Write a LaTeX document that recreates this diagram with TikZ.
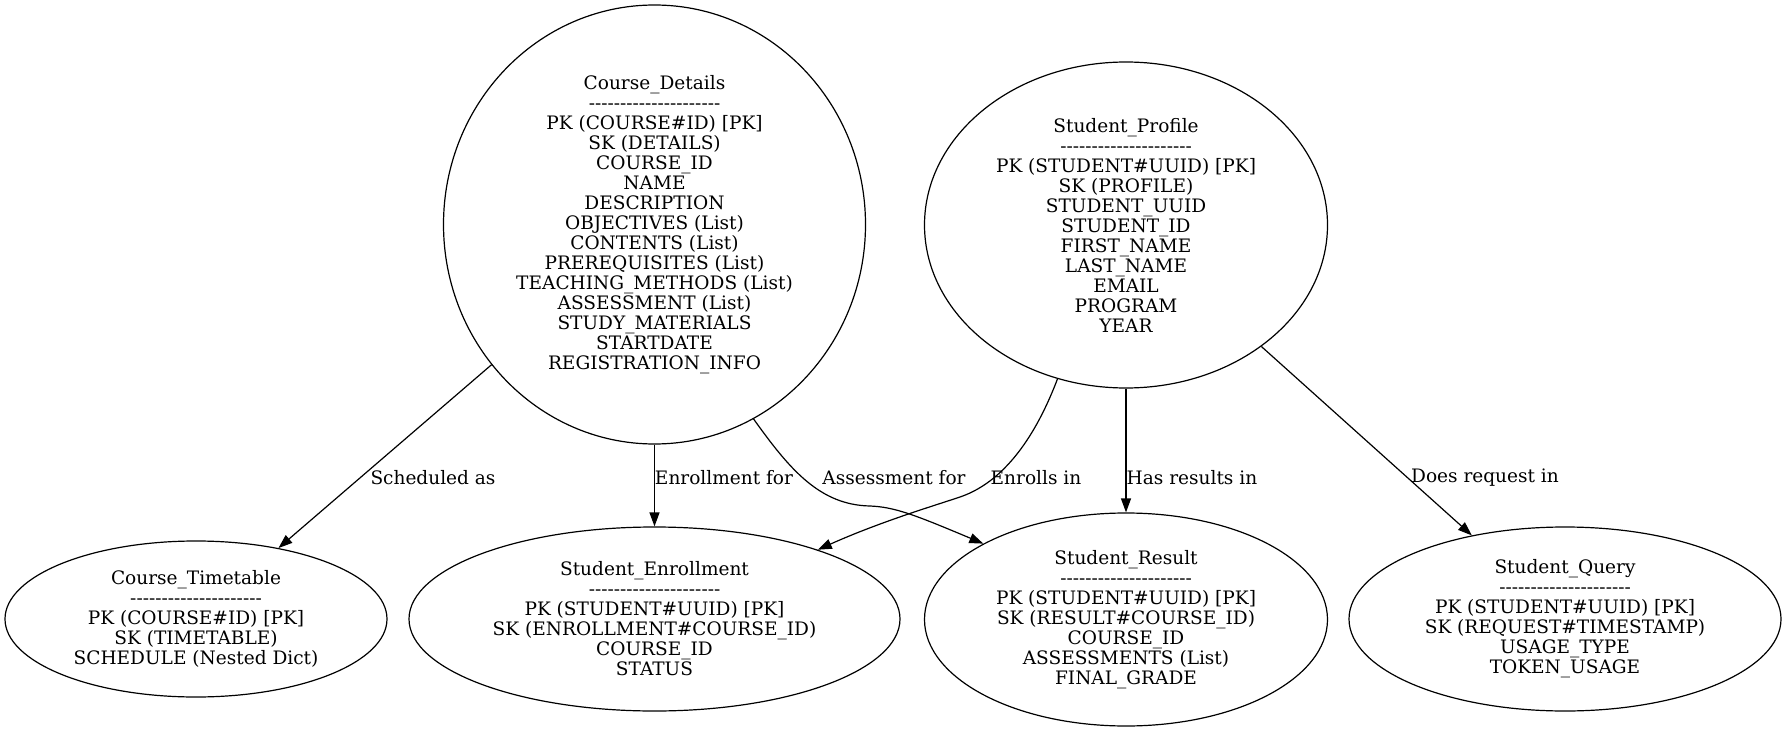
\documentclass[tikz,border=0pt]{standalone}
\usepackage{fontspec}
\setmainfont{DejaVu Serif}
\usetikzlibrary{shapes.geometric,arrows.meta}
\newcommand\dline{-{}-{}-{}-{}-{}-{}-{}-{}-{}-{}-{}-{}-{}-{}-{}-{}-{}-{}-{}-{}-{}}
\begin{document}
\begin{tikzpicture}[x=0.75pt,y=-0.75pt,
  ent/.style={ellipse,draw,line width=0.9pt,inner sep=0pt,align=center,font=\fontsize{13.9}{15}\selectfont},
  lbl/.style={font=\fontsize{13.9}{15}\selectfont,inner sep=0pt},
  rel/.style={line width=0.9pt,-{Triangle[length=10.5pt,width=7.5pt]}}]
\useasboundingbox (0,0) rectangle (1785,731);
\node[ent,minimum width=316.5pt,minimum height=329.25pt] (cd) at (654.5,224.5)
 {Course\_Details\\\dline\\PK (COURSE\#ID) [PK]\\SK (DETAILS)\\COURSE\_ID\\NAME\\DESCRIPTION\\OBJECTIVES (List)\\CONTENTS (List)\\PREREQUISITES (List)\\TEACHING\_METHODS (List)\\ASSESSMENT (List)\\STUDY\_MATERIALS\\STARTDATE\\REGISTRATION\_INFO};
\node[ent,minimum width=302.25pt,minimum height=244.5pt] (sp) at (1126,225)
 {Student\_Profile\\\dline\\PK (STUDENT\#UUID) [PK]\\SK (PROFILE)\\STUDENT\_UUID\\STUDENT\_ID\\FIRST\_NAME\\LAST\_NAME\\EMAIL\\PROGRAM\\YEAR};
\node[ent,minimum width=286.5pt,minimum height=117pt] (ct) at (196,619)
 {Course\_Timetable\\\dline\\PK (COURSE\#ID) [PK]\\SK (TIMETABLE)\\SCHEDULE (Nested Dict)};
\node[ent,minimum width=368.25pt,minimum height=138pt] (se) at (654.5,619)
 {Student\_Enrollment\\\dline\\PK (STUDENT\#UUID) [PK]\\SK (ENROLLMENT\#COURSE\_ID)\\COURSE\_ID\\STATUS};
\node[ent,minimum width=302.25pt,minimum height=159.75pt] (sr) at (1126,619.5)
 {Student\_Result\\\dline\\PK (STUDENT\#UUID) [PK]\\SK (RESULT\#COURSE\_ID)\\COURSE\_ID\\ASSESSMENTS (List)\\FINAL\_GRADE};
\node[ent,minimum width=324pt,minimum height=138pt] (sq) at (1565,619)
 {Student\_Query\\\dline\\PK (STUDENT\#UUID) [PK]\\SK (REQUEST\#TIMESTAMP)\\USAGE\_TYPE\\TOKEN\_USAGE};
\draw[rel] (cd) -- (ct);
\draw[rel] (cd) -- (se);
\draw[rel] (cd.-63) .. controls (790,470) and (820,505) .. (870,506) .. controls (895,507) and (915,515) .. (sr.152);
\draw[rel] (sp.246) .. controls (1040,425) and (1010,480) .. (960,497) .. controls (930,507) and (880,522) .. (se.23);
\draw[rel] (sp) -- (sr);
\draw[rel] (sp) -- (sq);
\node[lbl] (l1) at (433,478) {Scheduled as};
\node[lbl] (l2) at (724,478) {Enrollment for};
\node[lbl] (l3) at (894,478) {Assessment for};
\node[lbl] (l4) at (1036,478) {Enrolls in};
\node[lbl] (l5) at (1192,478) {Has results in};
\node[lbl] (l6) at (1485,478) {Does request in};
\end{tikzpicture}
\end{document}
